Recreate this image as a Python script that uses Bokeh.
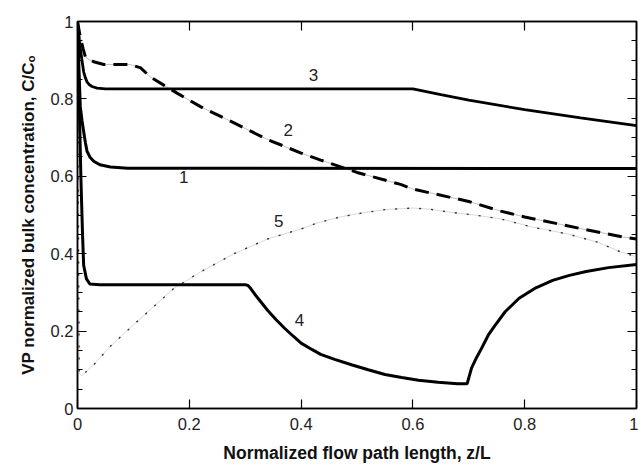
from bokeh.plotting import figure
from bokeh.models import LinearAxis, FixedTicker, CustomJSTickFormatter, Range1d, ColumnDataSource
from bokeh.core.properties import value
from bokeh.embed import file_html
from bokeh.resources import INLINE

FONT = "Liberation Sans"

# Curve 1
x1 = [0.0, 0.003, 0.005, 0.008, 0.011, 0.014, 0.017, 0.022, 0.029, 0.04, 0.059, 0.09, 1.0]
y1 = [1.0, 0.86, 0.78, 0.745, 0.716, 0.688, 0.665, 0.65, 0.639, 0.63, 0.624, 0.621, 0.62]
# Curve 2 (dashed)
x2 = [0.0, 0.005, 0.01, 0.014, 0.02, 0.029, 0.047, 0.094, 0.113, 0.13, 0.155, 0.178, 0.22,
      0.28, 0.34, 0.4, 0.435, 0.5, 0.578, 0.6, 0.7, 0.757, 0.8, 0.9, 0.977, 1.0]
y2 = [1.0, 0.96, 0.93, 0.909, 0.902, 0.896, 0.889, 0.889, 0.88, 0.857, 0.835, 0.815, 0.78,
      0.738, 0.695, 0.66, 0.642, 0.61, 0.579, 0.567, 0.535, 0.51, 0.495, 0.465, 0.443, 0.438]
# Curve 3
x3 = [0.0, 0.004, 0.008, 0.011, 0.014, 0.017, 0.021, 0.026, 0.035, 0.05, 0.6, 0.65, 0.7,
      0.8, 0.9, 1.0]
y3 = [1.0, 0.94, 0.90, 0.87, 0.855, 0.844, 0.837, 0.832, 0.828, 0.826, 0.826, 0.811, 0.797,
      0.772, 0.751, 0.731]
# Curve 4
x4 = [0.0, 0.003, 0.006, 0.009, 0.011, 0.016, 0.022, 0.04, 0.3, 0.305, 0.31, 0.32, 0.33,
      0.34, 0.355, 0.37, 0.385, 0.4, 0.42, 0.435, 0.46, 0.49, 0.52, 0.55, 0.58, 0.61, 0.645,
      0.68, 0.697, 0.705, 0.714, 0.723, 0.735, 0.747, 0.765, 0.79, 0.82, 0.85, 0.88, 0.91,
      0.95, 1.0]
y4 = [1.0, 0.80, 0.60, 0.45, 0.37, 0.335, 0.322, 0.32, 0.32, 0.318, 0.31, 0.29, 0.272,
      0.254, 0.23, 0.208, 0.188, 0.169, 0.152, 0.14, 0.127, 0.113, 0.1, 0.088, 0.08, 0.073,
      0.068, 0.064, 0.064, 0.105, 0.132, 0.156, 0.19, 0.215, 0.25, 0.285, 0.312, 0.331, 0.344,
      0.354, 0.364, 0.372]
# Curve 5 (dotted)
x5 = [0.0, 0.003, 0.008, 0.029, 0.059, 0.1, 0.137, 0.172, 0.22, 0.28, 0.34, 0.4, 0.43,
      0.47, 0.5, 0.55, 0.6, 0.63, 0.667, 0.71, 0.757, 0.816, 0.877, 0.93, 0.971, 1.0]
y5 = [1.0, 0.09, 0.085, 0.113, 0.161, 0.216, 0.264, 0.31, 0.353, 0.40, 0.438, 0.464, 0.48,
      0.495, 0.503, 0.514, 0.518, 0.515, 0.507, 0.5, 0.49, 0.468, 0.451, 0.43, 0.405, 0.392]

# Curve labels
label_text = ["1", "2", "3", "4", "5"]
label_x = [0.19, 0.377, 0.422, 0.397, 0.36]
label_y = [0.597, 0.72, 0.862, 0.228, 0.485]

ticks = [0.0, 0.2, 0.4, 0.6, 0.8, 1.0]
y_minor = [0.05 * i for i in range(21)]

p = figure(width=638, height=465, output_backend="svg", toolbar_location=None,
           x_range=Range1d(0, 1), y_range=Range1d(0, 1),
           min_border_left=77, min_border_right=2, min_border_top=21, min_border_bottom=54,
           x_axis_label="Normalized flow path length, z/L",
           y_axis_label="VP normalized bulk concentration, C/C\u2092")
p.xgrid.visible = False
p.ygrid.visible = False
p.outline_line_color = "black"
p.outline_line_width = 1.5
p.background_fill_color = "white"
p.border_fill_color = "white"

fmt = CustomJSTickFormatter(code="return String(Math.round(tick*10)/10);")
blank = CustomJSTickFormatter(code="return '';")

def style(ax, labels=True, minor=False, ticks_list=ticks):
    ax.ticker = FixedTicker(ticks=ticks_list, minor_ticks=y_minor if minor else [])
    ax.axis_line_color = "black"
    ax.axis_line_width = 1.5
    ax.major_tick_in = 9
    ax.major_tick_out = 0
    ax.major_tick_line_color = "black"
    ax.major_tick_line_width = 1.2
    ax.minor_tick_in = 5
    ax.minor_tick_out = 0
    ax.minor_tick_line_color = "black" if minor else None
    ax.minor_tick_line_width = 1.0
    if labels:
        ax.formatter = fmt
        ax.major_label_text_font = FONT
        ax.major_label_text_font_size = "16.5px"
        ax.major_label_text_color = "#222222"
        ax.axis_label_text_font = FONT
        ax.axis_label_text_font_size = "17.5px"
        ax.axis_label_text_font_style = "bold"
        ax.axis_label_text_color = "#111111"
    else:
        ax.formatter = blank
        ax.major_label_standoff = 0

style(p.xaxis[0])
p.xaxis[0].major_label_standoff = 9
p.xaxis[0].axis_label_standoff = 10
style(p.yaxis[0], minor=True)
p.yaxis[0].major_label_standoff = 4
p.yaxis[0].axis_label_standoff = 10
p.yaxis[0].axis_label_text_font_size = "17px"

top = LinearAxis()
style(top, labels=False)
p.add_layout(top, "above")
right = LinearAxis()
style(right, labels=False, minor=True)
p.add_layout(right, "right")

# curve 5: faint thin line with darker dots
p.line(x5, y5, line_color="#c8c8c8", line_width=0.7)
p.line(x5, y5, line_color="#333333", line_width=1.4, line_dash="2 10")
# curve 2: faint thin connector + thick dashes
p.line(x2, y2, line_color="#b0b0b0", line_width=0.8)
p.line(x2, y2, line_color="black", line_width=3, line_dash="14 8")
# solid curves
p.line(x1, y1, line_color="black", line_width=3)
p.line(x3, y3, line_color="black", line_width=2.8)
p.line(x4, y4, line_color="black", line_width=3)

src = ColumnDataSource(dict(x=label_x, y=label_y, t=label_text))
p.text(x="x", y="y", text="t", source=src, text_font=value(FONT), text_font_size="17px",
       text_align="center", text_baseline="middle", text_color="#222222")

open("out.html", "w").write(file_html(p, INLINE))
